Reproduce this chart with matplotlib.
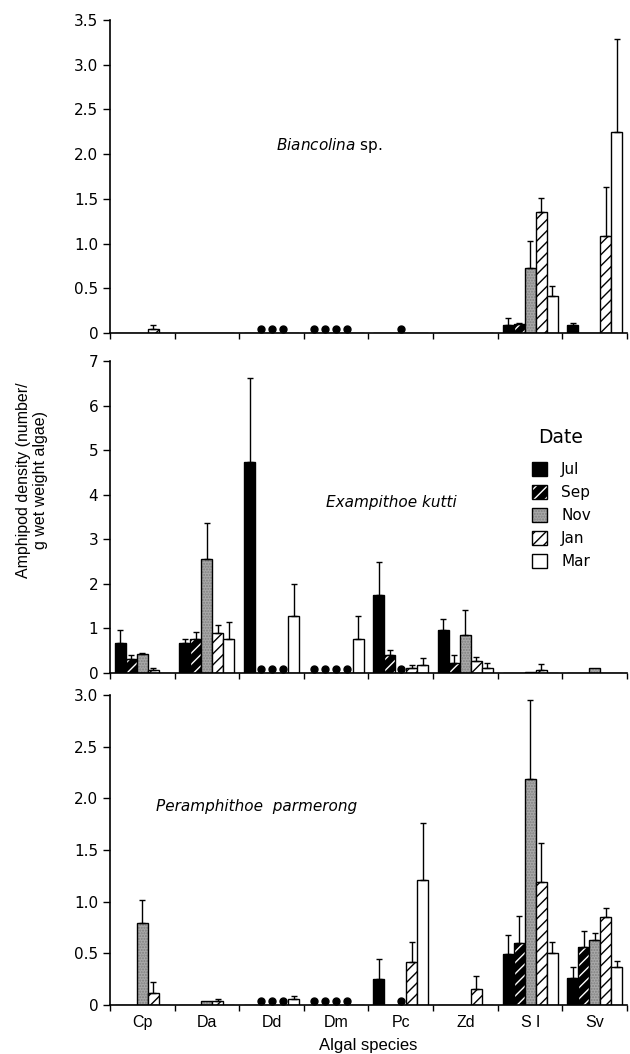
import numpy as np
import matplotlib
matplotlib.use("Agg")
import matplotlib.pyplot as plt
from matplotlib.patches import Patch
import matplotlib.transforms as mtransforms

plt.rcParams['mathtext.fontset'] = 'custom'
plt.rcParams['mathtext.it'] = 'DejaVu Sans:italic'
plt.rcParams['mathtext.rm'] = 'DejaVu Sans'

# algal species (x categories) and sampling dates
algae = ["Cp", "Da", "Dd", "Dm", "Pc", "Zd", "Sl", "Sv"]
algae_labels = ["Cp", "Da", "Dd", "Dm", "Pc", "Zd", "S l", "Sv"]
dates = ["Jul", "Sep", "Nov", "Jan", "Mar"]

# not sampled (drawn as dots): (algae index, date index)
not_sampled = [(2, 1), (2, 2), (2, 3),
               (3, 0), (3, 1), (3, 2), (3, 3),
               (4, 2)]

# Biancolina sp. -- rows = dates, columns = algae
bianc_mean = np.array([
    [0.00, 0, 0, 0, 0, 0, 0.09, 0.085],   # Jul
    [0.00, 0, 0, 0, 0, 0, 0.10, 0.00],    # Sep
    [0.00, 0, 0, 0, 0, 0, 0.73, 0.005],   # Nov
    [0.04, 0, 0, 0, 0, 0, 1.35, 1.08],    # Jan
    [0.00, 0, 0, 0, 0, 0, 0.41, 2.245],   # Mar
])
bianc_err = np.array([
    [0.00, 0, 0, 0, 0, 0, 0.08, 0.03],
    [0.00, 0, 0, 0, 0, 0, 0.01, 0.00],
    [0.00, 0, 0, 0, 0, 0, 0.30, 0.00],
    [0.05, 0, 0, 0, 0, 0, 0.16, 0.55],
    [0.00, 0, 0, 0, 0, 0, 0.12, 1.04],
])

# Exampithoe kutti
exam_mean = np.array([
    [0.68, 0.68, 4.73, 0.00, 1.76, 0.97, 0.01, 0.00],
    [0.31, 0.77, 0.00, 0.00, 0.41, 0.22, 0.01, 0.00],
    [0.42, 2.56, 0.00, 0.00, 0.00, 0.85, 0.03, 0.12],
    [0.06, 0.90, 0.00, 0.00, 0.12, 0.26, 0.07, 0.00],
    [0.00, 0.77, 1.28, 0.77, 0.19, 0.12, 0.00, 0.00],
])
exam_err = np.array([
    [0.28, 0.09, 1.88, 0.00, 0.72, 0.24, 0.00, 0.00],
    [0.10, 0.15, 0.00, 0.00, 0.11, 0.19, 0.00, 0.00],
    [0.03, 0.81, 0.00, 0.00, 0.00, 0.57, 0.00, 0.00],
    [0.05, 0.17, 0.00, 0.00, 0.07, 0.10, 0.14, 0.00],
    [0.00, 0.38, 0.71, 0.50, 0.15, 0.10, 0.00, 0.00],
])

# Peramphithoe parmerong
peram_mean = np.array([
    [0.00, 0.00, 0.00, 0.00, 0.25, 0.00, 0.49, 0.26],
    [0.00, 0.00, 0.00, 0.00, 0.00, 0.00, 0.60, 0.56],
    [0.79, 0.04, 0.00, 0.00, 0.00, 0.00, 2.19, 0.63],
    [0.12, 0.04, 0.00, 0.00, 0.42, 0.15, 1.19, 0.85],
    [0.00, 0.00, 0.06, 0.00, 1.21, 0.00, 0.50, 0.37],
])
peram_err = np.array([
    [0.00, 0.00, 0.00, 0.00, 0.20, 0.00, 0.19, 0.11],
    [0.00, 0.00, 0.00, 0.00, 0.00, 0.00, 0.26, 0.16],
    [0.23, 0.00, 0.00, 0.00, 0.00, 0.00, 0.76, 0.07],
    [0.10, 0.015, 0.00, 0.00, 0.19, 0.13, 0.38, 0.09],
    [0.00, 0.00, 0.03, 0.00, 0.55, 0.00, 0.11, 0.06],
])

# styles per date
faces = ["black", "black", "#a9a9a9", "white", "white"]
hatch_edge = ["black", "white", "#808080", "black", "black"]
hatches = [None, "///", "......", "///", None]

fig = plt.figure(figsize=(6.3, 10.54), dpi=100)
ax_top = fig.add_axes([0.1746, 0.684, 0.8206, 0.297])
ax_mid = fig.add_axes([0.1746, 0.3615, 0.8206, 0.296])
ax_bot = fig.add_axes([0.1746, 0.0465, 0.8206, 0.294])

x = np.arange(len(algae))
w = 0.17


def draw(ax, mean, err, ymax, yticks, yticklabels):
    for i in range(len(dates)):
        xs = x + (i - 2) * w
        ax.bar(xs, mean[i], w, color=faces[i], edgecolor=hatch_edge[i],
               hatch=hatches[i], linewidth=0)
        ax.bar(xs, mean[i], w, color="none", edgecolor="black", linewidth=1.0)
        m = err[i] > 0
        ax.errorbar(xs[m], mean[i][m], yerr=[np.zeros(m.sum()), err[i][m]],
                    fmt="none", ecolor="black", elinewidth=1.0, capsize=2.2,
                    capthick=1.0)
    tr = mtransforms.blended_transform_factory(ax.transData, ax.transAxes)
    for a, d in not_sampled:
        ax.plot(x[a] + (d - 2) * w, 0.013, "o", color="black", ms=5,
                transform=tr, clip_on=False)
    ax.set_xlim(-0.5, len(algae) - 0.5)
    ax.set_ylim(0, ymax)
    ax.set_yticks(yticks)
    ax.set_yticklabels(yticklabels, fontsize=11)
    ax.set_xticks(np.arange(-0.5, len(algae), 1))
    ax.set_xticklabels([])
    ax.tick_params(axis="x", direction="out", length=4, width=1)
    ax.tick_params(axis="y", direction="out", length=5, width=1)
    for s in ["top", "right"]:
        ax.spines[s].set_visible(False)
    for s in ["left", "bottom"]:
        ax.spines[s].set_linewidth(1.2)


draw(ax_top, bianc_mean, bianc_err, 3.5,
     np.arange(0, 3.51, 0.5), ["0", "0.5", "1.0", "1.5", "2.0", "2.5", "3.0", "3.5"])
draw(ax_mid, exam_mean, exam_err, 7,
     np.arange(0, 8), [str(v) for v in range(8)])
draw(ax_bot, peram_mean, peram_err, 3.0,
     np.arange(0, 3.01, 0.5), ["0", "0.5", "1.0", "1.5", "2.0", "2.5", "3.0"])

ax_bot.set_xticks(x, minor=True)
ax_bot.set_xticklabels(algae_labels, minor=True, fontsize=11.5,
                       family="Liberation Sans")
ax_bot.tick_params(axis="x", which="minor", length=0, pad=7)
ax_bot.set_xlabel("Algal species", fontsize=12, family="Liberation Sans",
                  labelpad=6)

ax_top.text(0.425, 0.60, r"$\mathit{Biancolina}$ sp.", transform=ax_top.transAxes,
            ha="center", va="center", fontsize=11)
ax_mid.text(0.545, 0.548, "Exampithoe kutti", transform=ax_mid.transAxes,
            ha="center", va="center", fontsize=11, style="italic")
ax_bot.text(0.284, 0.642, "Peramphithoe  parmerong", transform=ax_bot.transAxes,
            ha="center", va="center", fontsize=11, style="italic")

handles = []
for i in range(len(dates)):
    handles.append((Patch(facecolor=faces[i], edgecolor=hatch_edge[i],
                          hatch=hatches[i], linewidth=0),
                    Patch(facecolor="none", edgecolor="black", linewidth=1.0)))
ax_mid.text(0.872, 0.756, "Date", transform=ax_mid.transAxes,
            ha="center", va="center", fontsize=13.5)
leg = ax_mid.legend(handles, dates, loc="upper left",
                    bbox_to_anchor=(0.79, 0.72), frameon=False, fontsize=11,
                    handlelength=1.0, handleheight=1.0,
                    labelspacing=0.52, handletextpad=0.9)

fig.text(0.051, 0.5446, "Amphipod density (number/\ng wet weight algae)",
         rotation=90, ha="center", va="center", fontsize=11.5,
         family="Liberation Sans", multialignment="center")

fig.savefig("out.png", dpi=100)
